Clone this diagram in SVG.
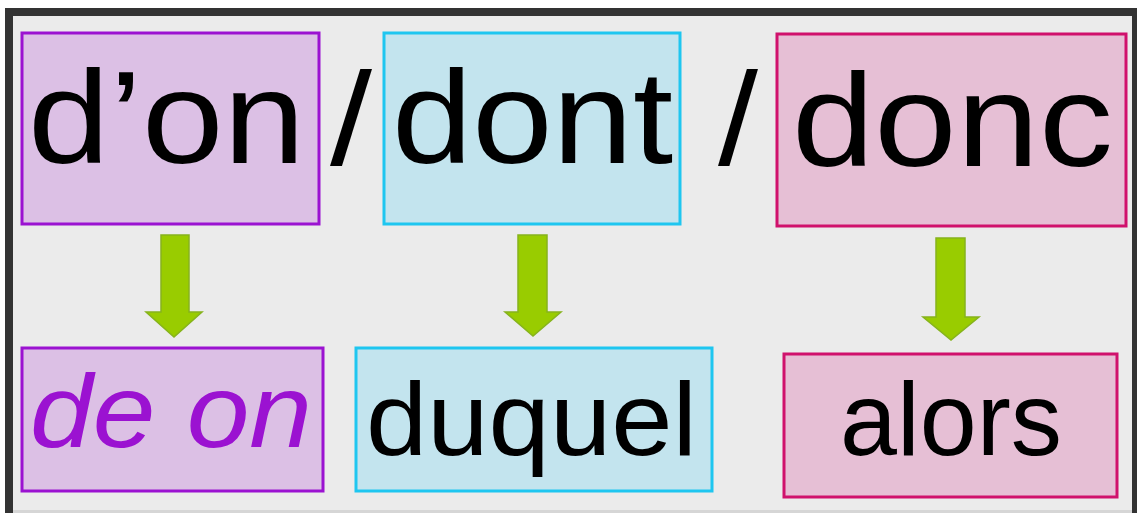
<svg xmlns="http://www.w3.org/2000/svg" width="1137" height="513" viewBox="0 0 1137 513">
<style>
.t{font-family:"Liberation Sans","DejaVu Sans",sans-serif;fill:#000}
.big{font-size:132px}
.small{font-size:104px}
.arrow{fill:#99cc00;stroke:#86b31c;stroke-width:1.5}
.p{fill:#dcc0e5;stroke:#9b12d1;stroke-width:3}
.c{fill:#c3e4ee;stroke:#1ec6f0;stroke-width:3}
.m{fill:#e6bfd5;stroke:#d0116c;stroke-width:3}
</style>
<rect x="0" y="0" width="1137" height="513" fill="#ffffff"/>
<rect x="5" y="8" width="1132" height="505" fill="#333333"/>
<rect x="13" y="16" width="1119" height="494" fill="#ebebeb"/>
<rect x="13" y="510" width="1119" height="3" fill="#d6d6d6"/>

<g id="node-don">
<rect class="p" x="22" y="33" width="297" height="191"/>
<text class="t big" x="28" y="163" textLength="277" lengthAdjust="spacingAndGlyphs">d’on</text>
</g>
<text class="t big" x="330" y="165" textLength="42" lengthAdjust="spacingAndGlyphs">/</text>
<g id="node-dont">
<rect class="c" x="384" y="33" width="296" height="191"/>
<text class="t big" x="392" y="163" textLength="281" lengthAdjust="spacingAndGlyphs">dont</text>
</g>
<text class="t big" x="718" y="165" textLength="40" lengthAdjust="spacingAndGlyphs">/</text>
<g id="node-donc">
<rect class="m" x="777" y="34" width="349" height="192"/>
<text class="t big" x="792" y="166" textLength="321" lengthAdjust="spacingAndGlyphs">donc</text>
</g>

<g id="node-deon">
<rect class="p" x="22" y="348" width="301" height="143"/>
<text class="t small" x="30" y="447" fill="#9b12d1" style="fill:#9b12d1;font-style:italic" textLength="282" lengthAdjust="spacingAndGlyphs">de on</text>
</g>
<g id="node-duquel">
<rect class="c" x="356" y="348" width="356" height="143"/>
<text class="t small" x="366" y="455" textLength="331" lengthAdjust="spacingAndGlyphs">duquel</text>
</g>
<g id="node-alors">
<rect class="m" x="784" y="354" width="333" height="143"/>
<text class="t small" x="840" y="455" textLength="222" lengthAdjust="spacingAndGlyphs">alors</text>
</g>

<g id="connectors">
<polygon class="arrow" points="161,235 189,235 189,312 202,312 174,337 146,312 161,312"/>
<polygon class="arrow" points="518,235 547,235 547,312 561,312 533,336 505,312 518,312"/>
<polygon class="arrow" points="936,238 965,238 965,317 979,317 951,340 923,317 936,317"/>
</g>
</svg>
